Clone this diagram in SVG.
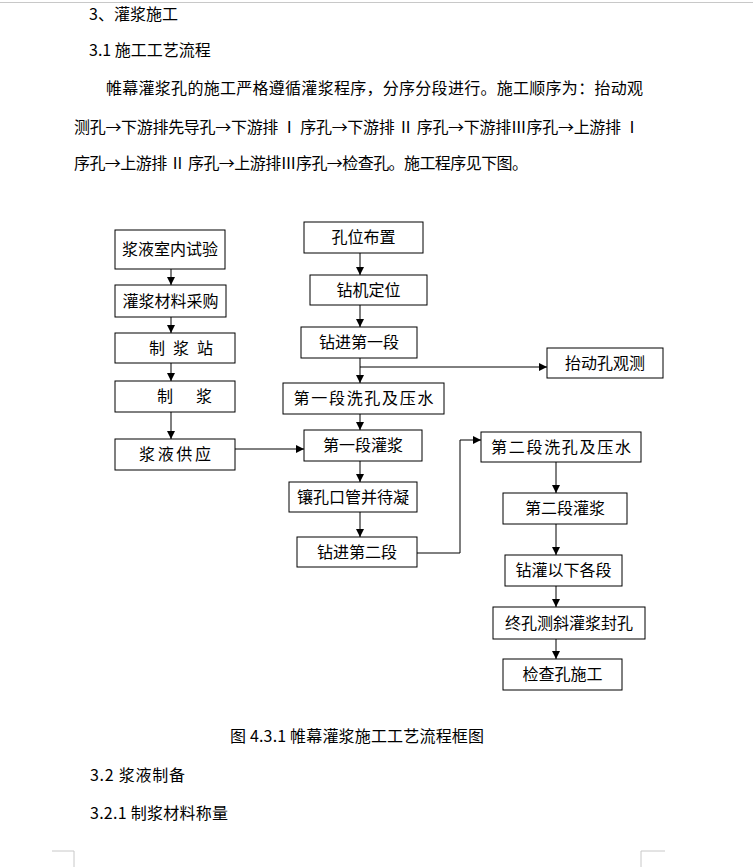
<svg xmlns="http://www.w3.org/2000/svg" width="753" height="867" viewBox="0 0 753 867">
<defs>
<style>
.t{font-family:"Noto Sans CJK SC","Liberation Sans",sans-serif;font-size:16px;fill:#000}
.c{text-anchor:middle}
.b{fill:#fff;stroke:#000;stroke-width:1}
.l{fill:none;stroke:#000;stroke-width:1}
.g{fill:none;stroke:#c8c8c8;stroke-width:1}
</style>
<marker id="ah" markerWidth="8" markerHeight="8" refX="8" refY="4" orient="auto" markerUnits="userSpaceOnUse">
<path d="M0,0 L8,4 L0,8 z" fill="#000"/>
</marker>
</defs>
<rect width="753" height="867" fill="#fff"/>
<line class="g" x1="0" y1="2.5" x2="753" y2="2.5" stroke="#e6e6e6"/>

<g id="text-body">
<text class="t" x="89" y="20">3、灌浆施工</text>
<text class="t" x="89" y="56">3.1 施工工艺流程</text>
<text class="t" x="106" y="94" textLength="537" lengthAdjust="spacing">帷幕灌浆孔的施工严格遵循灌浆程序，分序分段进行。施工顺序为：抬动观</text>
<text class="t" x="74" y="133" textLength="566" lengthAdjust="spacing">测孔→下游排先导孔→下游排 Ⅰ 序孔→下游排 Ⅱ 序孔→下游排Ⅲ序孔→上游排 Ⅰ</text>
<text class="t" x="74" y="169" textLength="454" lengthAdjust="spacing">序孔→上游排 Ⅱ 序孔→上游排Ⅲ序孔→检查孔。施工程序见下图。</text>
<text class="t" x="230" y="742" textLength="254" lengthAdjust="spacing">图 4.3.1 帷幕灌浆施工工艺流程框图</text>
<text class="t" x="90" y="781" textLength="95" lengthAdjust="spacing">3.2 浆液制备</text>
<text class="t" x="90" y="819" textLength="138" lengthAdjust="spacing">3.2.1 制浆材料称量</text>
</g>

<g id="connectors">
<line class="l" x1="171" y1="269" x2="171" y2="285" marker-end="url(#ah)"/>
<line class="l" x1="171" y1="317" x2="171" y2="333" marker-end="url(#ah)"/>
<line class="l" x1="171" y1="363" x2="171" y2="381" marker-end="url(#ah)"/>
<line class="l" x1="171" y1="412" x2="171" y2="439" marker-end="url(#ah)"/>
<line class="l" x1="235" y1="449" x2="304" y2="449" marker-end="url(#ah)"/>
<line class="l" x1="360" y1="253" x2="360" y2="275" marker-end="url(#ah)"/>
<line class="l" x1="360" y1="305" x2="360" y2="327" marker-end="url(#ah)"/>
<line class="l" x1="360" y1="358" x2="360" y2="383" marker-end="url(#ah)"/>
<line class="l" x1="360" y1="367" x2="547" y2="367" marker-end="url(#ah)"/>
<line class="l" x1="360" y1="414" x2="360" y2="430" marker-end="url(#ah)"/>
<line class="l" x1="360" y1="461" x2="360" y2="482" marker-end="url(#ah)"/>
<line class="l" x1="360" y1="512" x2="360" y2="537" marker-end="url(#ah)"/>
<polyline class="l" points="417,553 460,553 460,440 481,440" marker-end="url(#ah)"/>
<line class="l" x1="556" y1="462" x2="556" y2="493" marker-end="url(#ah)"/>
<line class="l" x1="556" y1="524" x2="556" y2="555" marker-end="url(#ah)"/>
<line class="l" x1="556" y1="586" x2="556" y2="607" marker-end="url(#ah)"/>
<line class="l" x1="556" y1="639" x2="556" y2="659" marker-end="url(#ah)"/>
</g>

<g id="n-l1"><rect class="b" x="115" y="230" width="110" height="39"/><text class="t c" x="170" y="255">浆液室内试验</text></g>
<g id="n-l2"><rect class="b" x="115" y="285" width="111" height="32"/><text class="t c" x="170.5" y="307">灌浆材料采购</text></g>
<g id="n-l3"><rect class="b" x="115" y="333" width="120" height="30"/><text class="t" x="149 173 197" y="354">制浆站</text></g>
<g id="n-l4"><rect class="b" x="115" y="381" width="120" height="31"/><text class="t" x="157 196" y="402">制浆</text></g>
<g id="n-l5"><rect class="b" x="115" y="439" width="120" height="31"/><text class="t c" x="175" y="460" textLength="72" lengthAdjust="spacing">浆液供应</text></g>

<g id="n-r1"><rect class="b" x="304" y="222" width="119" height="31"/><text class="t c" x="363.5" y="243">孔位布置</text></g>
<g id="n-r2"><rect class="b" x="310" y="275" width="117" height="30"/><text class="t c" x="368.5" y="296">钻机定位</text></g>
<g id="n-r3"><rect class="b" x="301" y="327" width="116" height="31"/><text class="t c" x="359" y="348">钻进第一段</text></g>
<g id="n-r4"><rect class="b" x="283" y="383" width="161" height="31"/><text class="t c" x="363.5" y="404" textLength="140" lengthAdjust="spacing">第一段洗孔及压水</text></g>
<g id="n-r5"><rect class="b" x="304" y="430" width="118" height="31"/><text class="t c" x="363" y="451">第一段灌浆</text></g>
<g id="n-r6"><rect class="b" x="289" y="482" width="128" height="30"/><text class="t c" x="353" y="503">镶孔口管并待凝</text></g>
<g id="n-r7"><rect class="b" x="297" y="537" width="120" height="30"/><text class="t c" x="357" y="558">钻进第二段</text></g>

<g id="n-s0"><rect class="b" x="547" y="348" width="116" height="30"/><text class="t c" x="605" y="369">抬动孔观测</text></g>
<g id="n-s1"><rect class="b" x="481" y="432" width="160" height="30"/><text class="t c" x="561" y="453" textLength="140" lengthAdjust="spacing">第二段洗孔及压水</text></g>
<g id="n-s2"><rect class="b" x="503" y="493" width="124" height="31"/><text class="t c" x="565" y="514">第二段灌浆</text></g>
<g id="n-s3"><rect class="b" x="505" y="555" width="117" height="31"/><text class="t c" x="563.5" y="576">钻灌以下各段</text></g>
<g id="n-s4"><rect class="b" x="493" y="607" width="152" height="32"/><text class="t c" x="569" y="629">终孔测斜灌浆封孔</text></g>
<g id="n-s5"><rect class="b" x="503" y="659" width="119" height="31"/><text class="t c" x="562.5" y="680">检查孔施工</text></g>

<g id="corners">
<polyline class="g" points="52,851 74,851 74,867"/>
<polyline class="g" points="665,851 641,851 641,867"/>
</g>
</svg>
